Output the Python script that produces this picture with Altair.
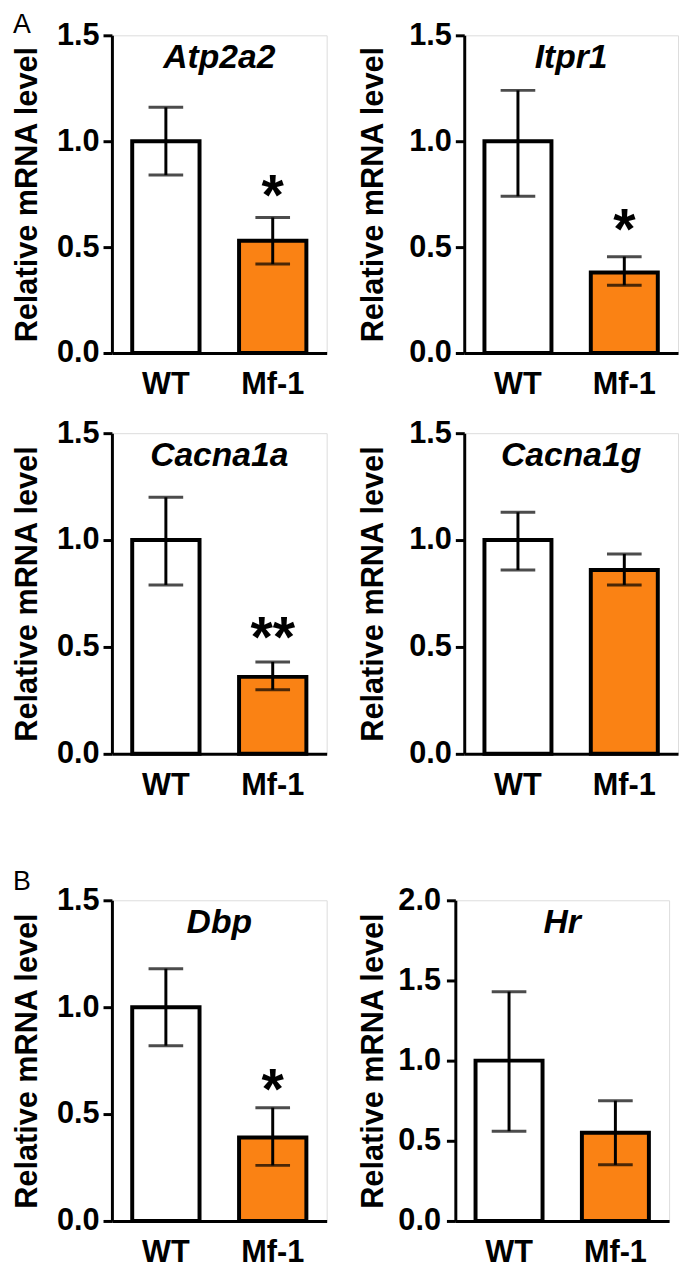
import altair as alt
import pandas as pd

FONT = "Liberation Sans"
ORANGE = "#FA8214"
FS = 31

genes = ["Atp2a2", "Itpr1", "Cacna1a", "Cacna1g", "Dbp", "Hr"]
groups = ["WT", "Mf-1"]
wt_mean = [1.0, 1.0, 1.0, 1.0, 1.0, 1.0]
wt_lo = [0.84, 0.74, 0.79, 0.86, 0.82, 0.56]
wt_hi = [1.16, 1.24, 1.20, 1.13, 1.18, 1.43]
mf_mean = [0.53, 0.38, 0.36, 0.86, 0.39, 0.55]
mf_lo = [0.42, 0.32, 0.30, 0.79, 0.26, 0.35]
mf_hi = [0.64, 0.455, 0.43, 0.935, 0.53, 0.75]
stars = ["*", "*", "**", "", "*", ""]
star_y = [0.80, 0.64, 0.60, 0.0, 0.67, 0.0]
y_max = [1.5, 1.5, 1.5, 1.5, 1.5, 2.0]
y_ticks = [[0, 0.5, 1.0, 1.5]] * 5 + [[0, 0.5, 1.0, 1.5, 2.0]]
letters = {0: "A", 4: "B"}


def panel(i, width, height, label_pad=4, title_pad=13, letter_y=-2):
    df = pd.DataFrame({
        "group": groups,
        "mean": [wt_mean[i], mf_mean[i]],
        "lo": [wt_lo[i], mf_lo[i]],
        "hi": [wt_hi[i], mf_hi[i]],
    })
    xscale = alt.Scale(domain=groups, paddingInner=0.37, paddingOuter=0.19)
    xaxis = alt.Axis(labelAngle=0, ticks=False, tickSize=0, labelPadding=17,
                     labelFontSize=FS, labelFont=FONT, labelFontWeight="bold",
                     labelColor="black", domainColor="black", domainWidth=3,
                     title=None, grid=False)
    yscale = alt.Scale(domain=[0, y_max[i]], nice=False, zero=True)
    yaxis = alt.Axis(values=y_ticks[i], format=".1f", title="Relative mRNA level",
                     titleFontSize=FS, titleFont=FONT, titleFontWeight="bold",
                     titleColor="black", titlePadding=title_pad,
                     labelFontSize=FS, labelFont=FONT, labelFontWeight="bold",
                     labelColor="black", labelPadding=label_pad, tickSize=9,
                     tickWidth=3, tickColor="black", domainColor="black",
                     domainWidth=3, grid=False)

    def X():
        return alt.X("group:N", sort=groups, scale=xscale, axis=xaxis, title=None)

    def Y(f):
        return alt.Y(f, scale=yscale, axis=yaxis, title="Relative mRNA level")

    bars = alt.Chart(df).mark_bar(stroke="black", strokeWidth=4).encode(
        x=X(), y=Y("mean:Q"),
        fill=alt.Fill("group:N", scale=alt.Scale(domain=groups, range=["white", ORANGE]), legend=None),
    )
    rules = alt.Chart(df).mark_rule(color="black", strokeWidth=3).encode(
        x=X(), y=Y("lo:Q"), y2="hi:Q")
    cap_hi = alt.Chart(df).mark_tick(color="black", thickness=3, size=35, orient="horizontal").encode(
        x=X(), y=Y("hi:Q"))
    cap_lo = alt.Chart(df).mark_tick(color="black", thickness=3, size=35, orient="horizontal").encode(
        x=X(), y=Y("lo:Q"))
    layers = [bars, rules, cap_hi, cap_lo]

    gdf = pd.DataFrame({"gene": [genes[i]]})
    title = alt.Chart(gdf).mark_text(font=FONT, fontSize=34, fontWeight="bold", fontStyle="italic",
                                     align="center", baseline="alphabetic", color="black").encode(
        x=alt.value(width / 2), y=alt.value(33), text="gene:N")
    layers.append(title)

    if stars[i]:
        sdf = pd.DataFrame({"group": ["Mf-1"], "sy": [star_y[i]], "s": [stars[i]]})
        st = alt.Chart(sdf).mark_text(font=FONT, fontSize=58, fontWeight="bold", align="center",
                                      baseline="alphabetic", dy=32, color="black").encode(
            x=X(), y=Y("sy:Q"), text="s:N")
        layers.append(st)

    if i in letters:
        ldf = pd.DataFrame({"t": [letters[i]]})
        lt = alt.Chart(ldf).mark_text(font=FONT, fontSize=27, align="left", baseline="alphabetic",
                                      color="black").encode(
            x=alt.value(-100), y=alt.value(letter_y), text="t:N")
        layers.append(lt)

    return alt.layer(*layers).properties(width=width, height=height)


row1 = alt.hconcat(panel(0, 217, 321, letter_y=-2), panel(1, 216, 321, title_pad=19), spacing=30)
row2 = alt.hconcat(panel(2, 217, 324), panel(3, 216, 324, title_pad=19), spacing=30)
row3 = alt.hconcat(panel(4, 217, 324, letter_y=-10),
                   panel(5, 216, 324, label_pad=6, title_pad=8), spacing=30)

top = alt.vconcat(row1, row2, spacing=16)
chart = (
    alt.vconcat(top, row3, spacing=67,
                padding={"top": -4, "left": 3, "right": 0, "bottom": 0})
    .configure_view(stroke=None)
    .configure(background="white")
)

chart.save("out.html", embed_options={"renderer": "svg", "actions": False})
